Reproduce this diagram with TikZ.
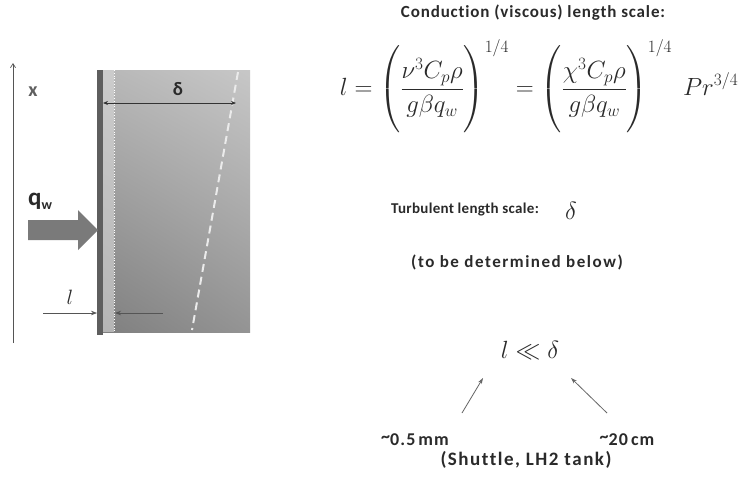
\documentclass[tikz,border=0pt]{standalone}
\usepackage{amsmath,amssymb}
\usepackage{fontspec}
\setmainfont{Carlito}[Ligatures=CommonOff]
\usetikzlibrary{arrows.meta,shadings}
\definecolor{txt}{HTML}{2A2A2A}
\definecolor{wallc}{HTML}{5E5E5E}
\definecolor{axc}{HTML}{555555}
\newcommand{\tld}{\raisebox{3pt}{\textasciitilde}}
\newcommand{\bigstrut}{\rule[-1.45em]{0pt}{3.15em}}
\tikzset{
  hdr/.style={font=\fontsize{17}{20}\selectfont\bfseries\addfontfeature{LetterSpace=5}, text=txt, inner sep=0pt},
  subhdr/.style={font=\fontsize{15}{18}\selectfont\bfseries\addfontfeature{LetterSpace=2}, text=txt, inner sep=0pt},
  note/.style={font=\fontsize{17}{20}\selectfont\bfseries\addfontfeature{LetterSpace=9}, text=txt, inner sep=0pt},
  vallbl/.style={font=\fontsize{18}{20}\selectfont\bfseries\addfontfeature{LetterSpace=6}, text=txt, inner sep=0pt},
  tanklbl/.style={font=\fontsize{19}{20}\selectfont\bfseries\addfontfeature{LetterSpace=8}, text=txt, inner sep=0pt},
  figlbl/.style={font=\fontsize{20}{22}\selectfont\bfseries, text=txt!75, inner sep=0pt},
  mathlbl/.style={text=txt, inner sep=0pt},
  thinarr/.style={draw=axc, line width=0.7pt, -{Stealth[length=6pt,width=4.5pt]}},
  dimarr/.style={draw=black!80, line width=0.8pt, {Stealth[length=5pt,width=4pt]}-{Stealth[length=5pt,width=4pt]}},
  axisline/.style={draw=axc, line width=0.7pt, -{Straight Barb[length=4pt,width=5pt]}},
  ptr/.style={draw=black!60, line width=0.8pt, -{Stealth[length=6pt,width=4pt]}},
}
\begin{document}
\begin{tikzpicture}[x=1pt,y=-1pt]
\useasboundingbox (0,0) rectangle (749,483);
\fill[white] (0,0) rectangle (749,483);

% ---- left figure ----
\coordinate (ax0) at (13,343);
\coordinate (ax1) at (13,63);
\draw[axisline] (ax0) -- (ax1);
\node[figlbl] (xl) at (33,92) {x};

\shade[upper left=black!28, upper right=black!22, lower left=black!50, lower right=black!42] (103,70) rectangle (250,332);
\fill[black!15, opacity=0.6] (103,70) rectangle (114,332);
\draw[white, dotted, line width=0.8pt] (114,70) -- (114,332);
\fill[wallc] (97,70) rectangle (103,335);

\coordinate (ds0) at (238,72);
\coordinate (ds1) at (192,330);
\draw[white!92!black, line width=2pt, dash pattern=on 8pt off 5pt] (ds0) -- (ds1);

\coordinate (dA) at (103,103);
\coordinate (dB) at (236,103);
\draw[dimarr] (dA) -- (dB);
\node[font=\fontsize{19}{20}\selectfont\bfseries, text=txt, inner sep=0pt] (dlbl) at (178,89) {δ};

\fill[black!52] (28,220) -- (78,220) -- (78,210) -- (98,230) -- (78,250) -- (78,240) -- (28,240) -- cycle;
\node[text=txt, inner sep=0pt, anchor=base west] (qw) at (28,205) {\fontsize{25}{25}\selectfont\bfseries q\raisebox{-4pt}{\fontsize{14}{14}\selectfont w}};

\node[mathlbl] (llbl) at (70,297) {\fontsize{21}{21}\selectfont$l$};
\coordinate (la0) at (43,313);
\coordinate (la1) at (97,313);
\draw[thinarr] (la0) -- (la1);
\coordinate (lb0) at (163,313);
\coordinate (lb1) at (115,313);
\draw[thinarr] (lb0) -- (lb1);

% ---- right text ----
\node[hdr] (h1) at (533,13) {Conduction (viscous) length scale:};
\node[mathlbl] (eq) at (539,86) {\fontsize{24}{28}\selectfont$\displaystyle l=\left(\bigstrut\frac{\nu^3C_p\rho}{g\beta q_w}\right)^{1/4}=\left(\bigstrut\frac{\chi^3C_p\rho}{g\beta q_w}\right)^{1/4}\;Pr^{3/4}$};

\node[subhdr] (t1) at (465,210) {Turbulent length scale:};
\node[mathlbl] (tdel) at (571,211) {\fontsize{36}{36}\selectfont$\delta$};
\node[note] (t2) at (517,262) {(to be determined below)};

\node[mathlbl] (ll) at (530,350) {\fontsize{32}{32}\selectfont$l\ll\delta$};
\node[vallbl] (v1) at (415,440) {\tld0.5\,mm};
\node[vallbl] (v2) at (627,440) {\tld20\,cm};
\node[tanklbl] (v3) at (526,460) {(Shuttle, LH2 tank)};
\coordinate (p0) at (462,413);
\coordinate (p1) at (483,378);
\draw[ptr] (p0) -- (p1);
\coordinate (q0) at (607,413);
\coordinate (q1) at (571,378);
\draw[ptr] (q0) -- (q1);
\end{tikzpicture}
\end{document}
